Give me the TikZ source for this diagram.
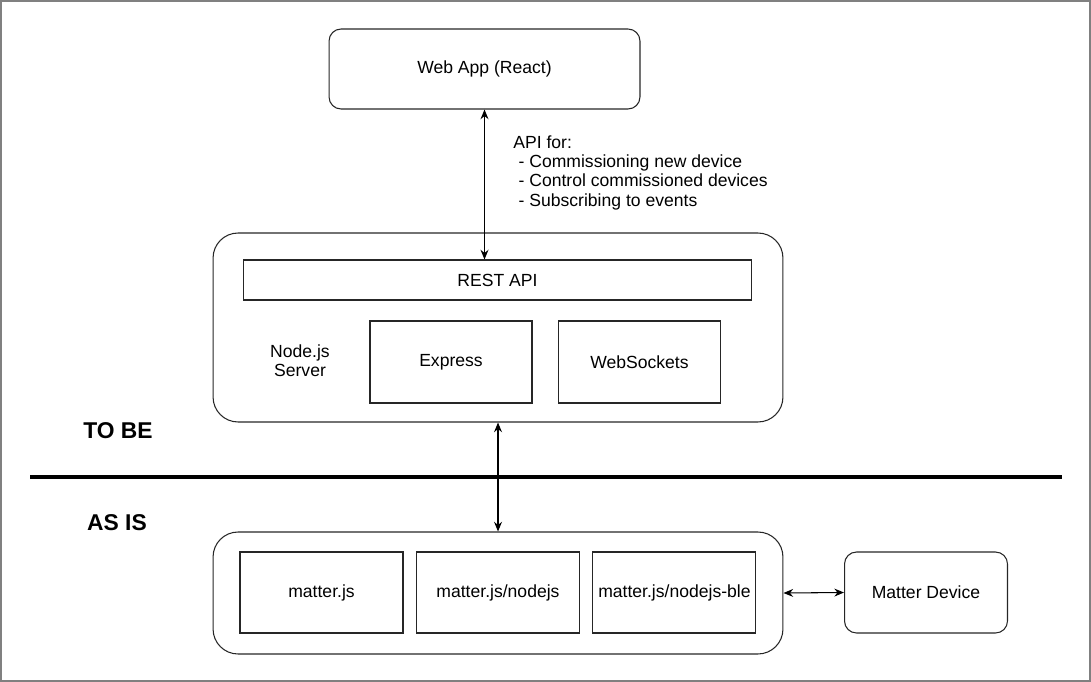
\documentclass[tikz,border=0pt]{standalone}
\usepackage{fontspec}
\setmainfont{Liberation Sans}
\usetikzlibrary{arrows.meta,positioning}

\begin{document}
\begin{tikzpicture}[x=0.02cm,y=-0.02cm,>={Stealth[length=5.5pt,width=4.5pt]},node distance=3.53cm,on grid,font=\fontsize{10}{11}\selectfont]
          \tikzset{box/.style={draw=black!85,line width=0.6pt,minimum width=3.26cm,minimum height=1.62cm,inner sep=0pt}}
          \tikzset{roundbox/.style={box,rounded corners=0.24cm}}
          \tikzset{outerbox/.style={draw=black!85,line width=0.6pt,minimum width=11.4cm,rounded corners=0.5cm,inner sep=0pt}}
          \tikzset{phase/.style={font=\fontsize{13}{15}\selectfont\bfseries}}
          \useasboundingbox (0,0) rectangle (1091,682);
          \draw[gray,line width=0.8pt] (1,1) rectangle (1090,681);
          \node[roundbox,minimum width=6.22cm,minimum height=1.6cm]   (webapp)     at (484.5,69)   {Web App (React)};
          \node[outerbox,minimum height=3.78cm]                        (server)     at (498,327.5)  {};
          \node[box,minimum width=10.18cm,minimum height=0.8cm]        (restapi)    at (497.5,280)  {REST API};
          \node[box,minimum width=3.24cm,minimum height=1.64cm]        (express)    at (451,362)    {Express};
          \node[box,minimum width=3.24cm,minimum height=1.64cm]        (websockets) [right=3.77cm of express] {WebSockets};
          \node[align=center]                                          (nodejs)     at (300,361)    {Node.js\\Server};
          \node[anchor=north west,align=left,inner sep=0pt]            (apifor)     at (513,135)
               {API for:\\\hspace*{3pt}- Commissioning new device\\\hspace*{3pt}- Control commissioned devices\\\hspace*{3pt}- Subscribing to events};
          \node[phase]                                                 (tobe)       at (118,431)    {TO BE};
          \node[phase]                                                 (asis)       at (117,523)    {AS IS};
          \coordinate (sepleft) at (30,477);
          \coordinate (sepright) at (1062,477);
          \draw[line width=2pt] (sepleft) -- (sepright);
          \node[outerbox,minimum height=2.44cm]                        (matter)     at (498,593)    {};
          \node[box]                                                   (matterjs)   at (321.5,592.5) {matter.js};
          \node[box]                                                   (matternode) [right=of matterjs]   {matter.js/nodejs};
          \node[box]                                                   (matterble)  [right=of matternode] {matter.js/nodejs-ble};
          \node[roundbox]                                              (device)     at (926,592.5)  {Matter Device};
          \tikzset{biarrow/.style={<->,line width=0.6pt,black}}
          \path (webapp.south) edge [biarrow] (webapp.south |- restapi.north)
          (server.south)       edge [biarrow] (matter.north)
          (matter.east)        edge [biarrow] (device.west);
        \end{tikzpicture}
\end{document}
